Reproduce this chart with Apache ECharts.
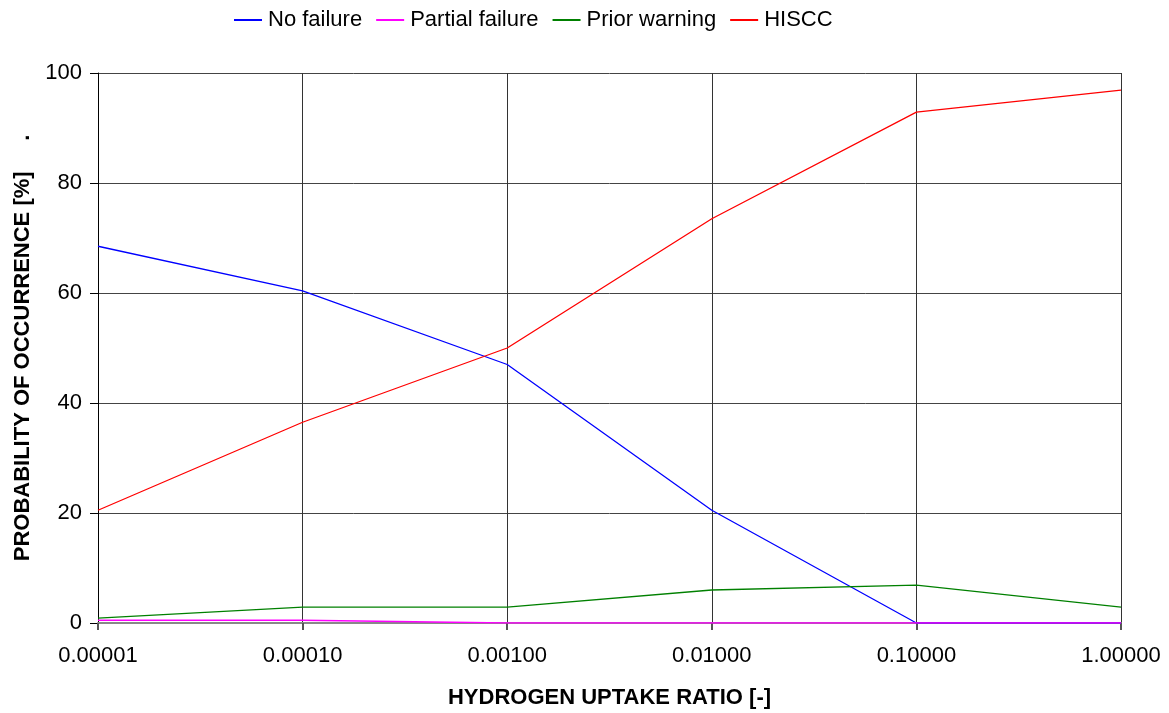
<!DOCTYPE html>
<html><head><meta charset="utf-8">
<script src="https://cdn.jsdelivr.net/npm/echarts@6/dist/echarts.min.js"></script>
<style>html,body{margin:0;padding:0;background:#fff}#c{width:1169px;height:713px}</style>
</head><body><div id="c"></div>
<script>
const categories = ["0.00001","0.00010","0.00100","0.01000","0.10000","1.00000"];
const noFailure = [68.5, 60.4, 47, 20.5, 0, 0];
const partialFailure = [0.5, 0.5, 0, 0, 0, 0];
const priorWarning = [0.9, 2.9, 2.9, 6, 6.9, 2.9];
const hiscc = [20.5, 36.5, 50, 73.5, 92.9, 96.9];
const yTicks = [0, 20, 40, 60, 80, 100];

const font = "'Liberation Sans', Arial, sans-serif";
const chart = echarts.init(document.getElementById('c'), null, {renderer:'canvas'});
function s(name, data, color){
  return {name, type:'line', data, symbol:'none', lineStyle:{color, width:1.3}, itemStyle:{color}, animation:false};
}
chart.setOption({
  animation:false,
  legend:{top:4, left:229, itemWidth:28, itemHeight:2, itemGap:14,
    icon:'rect', textStyle:{fontFamily:font, fontSize:22, color:'#000', padding:[0,0,0,1]},
    data:['No failure','Partial failure','Prior warning','HISCC']},
  grid:{left:98, right:48, top:73, bottom:90, outerBoundsMode:'none', containLabel:false},
  xAxis:{type:'category', data:categories, boundaryGap:false,
    name:'HYDROGEN UPTAKE RATIO [-]', nameLocation:'middle', nameGap:64,
    nameTextStyle:{fontFamily:font, fontSize:22, fontWeight:'bold', color:'#000'},
    axisLine:{lineStyle:{color:'#888', width:2}},
    axisTick:{show:true, length:7, lineStyle:{color:'#555', width:2}},
    axisLabel:{fontFamily:font, fontSize:22, color:'#000', margin:22},
    splitLine:{show:true, lineStyle:{color:'#333', width:1}}},
  yAxis:{type:'value', min:0, max:100, interval:20,
    name:'PROBABILITY OF OCCURRENCE [%]     .', nameLocation:'middle', nameGap:64, nameRotate:90,
    nameTextStyle:{fontFamily:font, fontSize:22, fontWeight:'bold', color:'#000'},
    axisLine:{show:true, lineStyle:{color:'#000', width:1}},
    axisTick:{show:true, length:8, lineStyle:{color:'#000'}},
    axisLabel:{fontFamily:font, fontSize:22, color:'#000', margin:16,
      formatter:v=>yTicks.includes(v)?String(v):''},
    splitLine:{show:true, lineStyle:{color:'#444', width:1}}},
  series:[
    s('No failure', noFailure, '#0000ff'),
    s('Partial failure', partialFailure, '#ff00ff'),
    s('Prior warning', priorWarning, '#008000'),
    s('HISCC', hiscc, '#ff0000')
  ]
});
</script></body></html>
